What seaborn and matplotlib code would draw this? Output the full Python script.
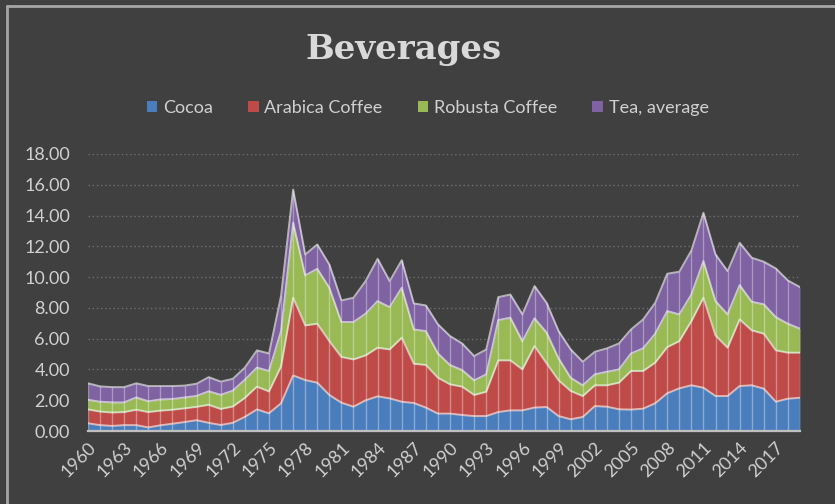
import numpy as np
import pandas as pd
import matplotlib
matplotlib.use('Agg')
import matplotlib.pyplot as plt
from matplotlib.patches import Patch
from matplotlib.lines import Line2D
import seaborn as sns

years = list(range(1960, 2020))

# values (cumulative stack heights, $/kg)
cum_cocoa = [0.50, 0.38, 0.33, 0.38, 0.38, 0.23, 0.37, 0.47, 0.58, 0.70,
             0.53, 0.39, 0.53, 0.92, 1.40, 1.15, 1.80, 3.61, 3.31, 3.14,
             2.34, 1.84, 1.58, 1.99, 2.25, 2.12, 1.90, 1.82, 1.52, 1.13,
             1.13, 1.04, 0.97, 0.97, 1.23, 1.34, 1.34, 1.52, 1.56, 0.97,
             0.76, 0.91, 1.62, 1.58, 1.41, 1.39, 1.45, 1.80, 2.45, 2.77,
             2.97, 2.81, 2.27, 2.27, 2.92, 2.97, 2.75, 1.90, 2.10, 2.16]
cum_arabica = [1.40, 1.26, 1.20, 1.23, 1.38, 1.23, 1.32, 1.38, 1.47, 1.57,
               1.70, 1.43, 1.59, 2.15, 2.88, 2.57, 4.20, 8.66, 6.86, 6.97,
               5.84, 4.81, 4.65, 4.91, 5.41, 5.30, 6.06, 4.37, 4.29, 3.46,
               3.03, 2.88, 2.34, 2.55, 4.59, 4.59, 4.00, 5.52, 4.40, 3.29,
               2.60, 2.27, 2.97, 2.97, 3.14, 3.90, 3.90, 4.44, 5.45, 5.84,
               7.14, 8.66, 6.21, 5.41, 7.25, 6.54, 6.32, 5.24, 5.09, 5.09]
cum_robusta = [2.03, 1.90, 1.86, 1.86, 2.18, 1.93, 2.05, 2.08, 2.18, 2.28,
               2.58, 2.35, 2.62, 3.33, 4.12, 3.90, 6.50, 13.53, 10.11, 10.54,
               9.31, 7.08, 7.08, 7.62, 8.44, 8.05, 9.31, 6.60, 6.49, 5.04,
               4.29, 3.96, 3.29, 3.68, 7.21, 7.36, 5.84, 7.32, 6.40, 4.72,
               3.46, 2.97, 3.68, 3.85, 4.00, 5.04, 5.37, 6.32, 7.79, 7.58,
               8.87, 11.04, 8.44, 7.58, 9.48, 8.40, 8.23, 7.40, 6.97, 6.65]
cum_tea = [3.10, 2.90, 2.85, 2.85, 3.10, 2.92, 2.92, 2.92, 2.95, 3.07,
           3.50, 3.21, 3.39, 4.12, 5.24, 5.04, 8.80, 15.69, 11.47, 12.12,
           10.82, 8.48, 8.66, 9.74, 11.19, 9.74, 11.10, 8.29, 8.16, 6.93,
           6.17, 5.69, 4.87, 5.30, 8.70, 8.87, 7.58, 9.42, 8.33, 6.49,
           5.30, 4.50, 5.15, 5.37, 5.69, 6.60, 7.25, 8.33, 10.22, 10.35,
           11.73, 14.18, 11.47, 10.39, 12.23, 11.26, 11.00, 10.56, 9.78, 9.35]

series = ['Cocoa', 'Arabica Coffee', 'Robusta Coffee', 'Tea, average']
colors = ['#4a7dbb', '#be4b48', '#98b954', '#7e62a1']
xticks = list(range(1960, 2019, 3))
yticks = list(range(0, 19, 2))

df = pd.DataFrame({'year': years, 'Cocoa': cum_cocoa, 'Arabica Coffee': cum_arabica,
                   'Robusta Coffee': cum_robusta, 'Tea, average': cum_tea})

bg = '#404040'
txt = '#d0d0d0'
sns.set_style('dark', {'axes.facecolor': bg, 'figure.facecolor': bg})
plt.rcParams['font.family'] = ['Lato', 'DejaVu Sans']

fig = plt.figure(figsize=(8.35, 5.04), dpi=100, facecolor=bg)
ax = fig.add_axes([88 / 835, 73 / 504, 712 / 835, 277 / 504])
ax.set_facecolor(bg)

# stacked areas
lower = np.zeros(len(years))
for name, col in zip(series, colors):
    upper = df[name].to_numpy()
    ax.fill_between(df['year'], lower, upper, color=col, linewidth=0, zorder=2)
    lower = upper

# light separators at each category
ax.vlines(df['year'], 0, df['Tea, average'], color='white', alpha=0.35, linewidth=1, zorder=3)

# series top edges
for name in series:
    sns.lineplot(data=df, x='year', y=name, ax=ax, color='white', alpha=0.6,
                 linewidth=1.4, zorder=4, legend=False)

ax.set_xlim(1960, 2019)
ax.set_ylim(0, 18)
ax.set_yticks(yticks)
ax.set_yticklabels([f'{v:.2f}' for v in yticks], color=txt, fontsize=13)
ax.set_xticks(xticks)
ax.set_xticklabels([str(v) for v in xticks], rotation=45, ha='right', va='top',
                   rotation_mode='anchor', color=txt, fontsize=13)
ax.tick_params(axis='both', length=0)
ax.tick_params(axis='y', pad=13)
ax.tick_params(axis='x', pad=6)
ax.set_xlabel('')
ax.set_ylabel('')

ax.grid(False)
for y in yticks[1:]:
    ax.axhline(y, color='#707070', linewidth=1, linestyle=(0, (1, 2)), zorder=1)

for s in ['top', 'right', 'left']:
    ax.spines[s].set_visible(False)
ax.spines['bottom'].set_color('#bfbfbf')
ax.spines['bottom'].set_linewidth(1.6)
ax.spines['bottom'].set_zorder(5)

fig.text(0.483, 0.901, 'Beverages', ha='center', va='center', color='#d9d9d9',
         fontsize=24.5, fontweight='bold', family=['DejaVu Serif'])

handles = [Patch(facecolor=c, edgecolor='none') for c in colors]
fig.legend(handles, series, loc='center', bbox_to_anchor=(0.512, 0.786), ncol=4,
           frameon=False, fontsize=13, labelcolor=txt, handlelength=0.6,
           handleheight=0.6, handletextpad=0.3, columnspacing=1.95)

# outer border (top and left only visible in the reference)
fig.add_artist(Line2D([7 / 835, 7 / 835], [0, 1 - 6 / 504], transform=fig.transFigure,
                      color='#a6a6a6', linewidth=2))
fig.add_artist(Line2D([7 / 835, 1], [1 - 6 / 504, 1 - 6 / 504], transform=fig.transFigure,
                      color='#a6a6a6', linewidth=2))

fig.savefig('out.png', dpi=100, facecolor=bg)
